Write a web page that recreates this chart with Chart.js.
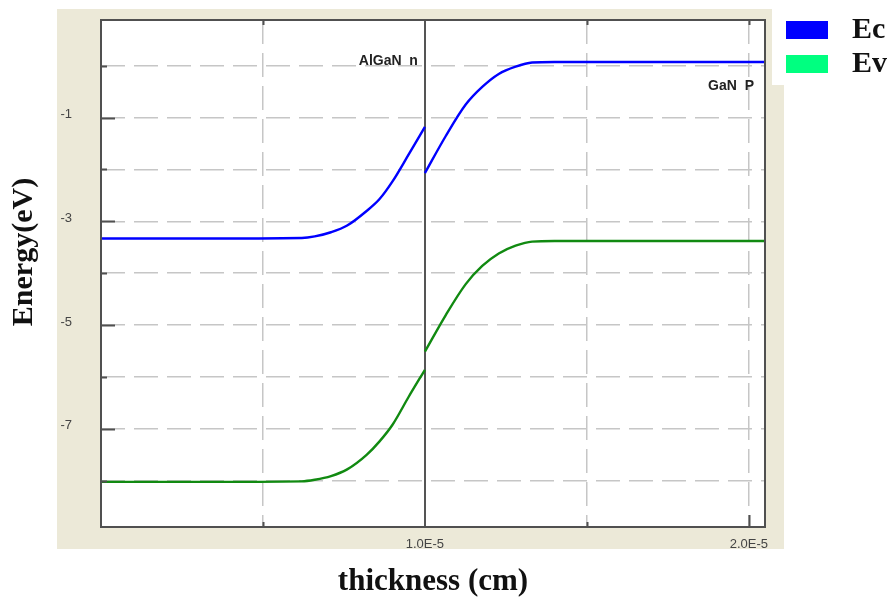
<!DOCTYPE html>
<html lang="en">
<head>
  <meta charset="UTF-8" />
  <title>Band diagram: n-AlGaN / p-GaN</title>
  <style>
    body { margin: 0; padding: 0; background: #fff; }
    canvas { display: block; }
  </style>
</head>
<body>
  <canvas id="bandChart" width="893" height="601"></canvas>

  <script src="https://cdn.jsdelivr.net/npm/chart.js"></script>
  <script>
    // --- Band edges (x in cm, energy in eV) ---
    // n-AlGaN side, up to the junction at 1.0E-5 cm
    const xLeft  = [0, 0.30e-5, 0.62e-5, 0.66e-5, 0.71e-5, 0.76e-5, 0.82e-5, 0.86e-5, 0.90e-5, 0.95e-5, 1.0e-5];
    const ecLeft = [-3.33, -3.33, -3.32, -3.29, -3.21, -3.08, -2.80, -2.57, -2.23, -1.71, -1.18];
    const evLeft = [-8.02, -8.02, -8.01, -7.98, -7.91, -7.78, -7.50, -7.24, -6.92, -6.38, -5.86];

    // p-GaN side
    const xRight  = [1.0e-5, 1.064e-5, 1.126e-5, 1.177e-5, 1.228e-5, 1.28e-5, 1.331e-5, 1.40e-5, 1.70e-5, 2.05e-5];
    const ecRight = [-2.07, -1.36, -0.75, -0.41, -0.16, -0.02, 0.06, 0.07, 0.07, 0.07];
    const evRight = [-5.51, -4.81, -4.21, -3.86, -3.62, -3.47, -3.39, -3.38, -3.38, -3.38];

    // --- Axes ---
    const xTicks = [0, 0.5e-5, 1.0e-5, 1.5e-5, 2.0e-5];
    const xTickLabels = ['', '', '1.0E-5', '', '2.0E-5'];
    const yTicks = [0, -1, -2, -3, -4, -5, -6, -7, -8];
    const yTickLabels = ['', '-1', '', '-3', '', '-5', '', '-7', ''];
    const junctionX = 1.0e-5;

    // --- Legend / region names ---
    const bandNames = ['Ec', 'Ev'];
    const lineColors = ['#0000ff', '#118a11'];
    const legendColors = ['#0000ff', '#00ff80'];
    const leftRegion = 'AlGaN  n';
    const rightRegion = 'GaN  P';

    function pairs(xs, ys) {
      return xs.map((x, i) => ({ x: x, y: ys[i] }));
    }

    function bandSet(data, color) {
      return {
        data: data,
        borderColor: color,
        backgroundColor: color,
        borderWidth: 2.4,
        pointRadius: 0,
        cubicInterpolationMode: 'monotone',
        fill: false
      };
    }

    // keep the plot box where the layout padding puts it
    function fixScale(s, size) {
      if (s.isHorizontal()) s.height = size; else s.width = size;
      s.paddingTop = 0;
      s.paddingBottom = 0;
      s.paddingLeft = 0;
      s.paddingRight = 0;
    }

    const serif = '"Liberation Serif", "Times New Roman", serif';

    // background panel, junction line, frame, titles and legend
    const decorations = {
      id: 'decorations',
      beforeDraw(chart) {
        const { ctx, chartArea: a } = chart;
        ctx.save();
        ctx.fillStyle = '#ece9d8';
        ctx.fillRect(a.left - 44, a.top - 11, a.width + 63, a.height + 33);
        // legend box sits over the panel corner
        ctx.fillStyle = '#ffffff';
        ctx.fillRect(a.right + 7, 0, chart.width - a.right - 7, 85);
        ctx.fillRect(a.left, a.top, a.width, a.height);
        ctx.restore();
      },
      beforeDatasetsDraw(chart) {
        const { ctx, chartArea: a, scales } = chart;
        const jx = Math.round(scales.x.getPixelForValue(junctionX));
        ctx.save();
        ctx.strokeStyle = '#555';
        ctx.lineWidth = 2;
        ctx.beginPath();
        ctx.moveTo(jx, a.top);
        ctx.lineTo(jx, a.bottom);
        ctx.stroke();
        ctx.restore();
      },
      afterDraw(chart) {
        const { ctx, chartArea: a, scales } = chart;
        ctx.save();

        // frame
        ctx.strokeStyle = '#505050';
        ctx.lineWidth = 2;
        ctx.strokeRect(a.left, a.top, a.width, a.height);

        // inward tick marks
        ctx.beginPath();
        yTicks.forEach((v, i) => {
          const py = Math.round(scales.y.getPixelForValue(v)) + 0.5;
          const len = yTickLabels[i] ? 14 : 6;
          ctx.moveTo(a.left, py);
          ctx.lineTo(a.left + len, py);
        });
        xTicks.forEach((v, i) => {
          if (v === 0 || v === junctionX) return;
          const px = Math.round(scales.x.getPixelForValue(v)) + 0.5;
          const len = xTickLabels[i] ? 12 : 5;
          ctx.moveTo(px, a.bottom);
          ctx.lineTo(px, a.bottom - len);
          ctx.moveTo(px, a.top);
          ctx.lineTo(px, a.top + 5);
        });
        ctx.stroke();

        // region names
        ctx.fillStyle = '#222';
        ctx.font = 'bold 14px "Liberation Sans", Arial, sans-serif';
        ctx.textAlign = 'right';
        ctx.textBaseline = 'alphabetic';
        ctx.fillText(leftRegion, scales.x.getPixelForValue(junctionX) - 7, scales.y.getPixelForValue(0) - 1);
        ctx.fillText(rightRegion, a.right - 11, scales.y.getPixelForValue(-0.47));

        // axis titles
        ctx.fillStyle = '#111';
        ctx.font = 'bold 31px ' + serif;
        ctx.textAlign = 'center';
        ctx.fillText('thickness (cm)', (a.left + a.right) / 2, a.bottom + 63);

        ctx.font = 'bold 30px ' + serif;
        ctx.translate(32, 252);
        ctx.rotate(-Math.PI / 2);
        ctx.fillText('Energy(eV)', 0, 0);
        ctx.setTransform(1, 0, 0, 1, 0, 0);

        // legend
        ctx.textAlign = 'left';
        ctx.font = 'bold 30px ' + serif;
        bandNames.forEach((name, i) => {
          const top = 21 + i * 34;
          ctx.fillStyle = legendColors[i];
          ctx.fillRect(a.right + 21, top, 42, 18);
          ctx.fillStyle = '#111';
          ctx.fillText(name, a.right + 87, top + 16 + 1);
        });

        ctx.restore();
      }
    };

    const ctx = document.getElementById('bandChart').getContext('2d');
    const bandChart = new Chart(ctx, {
      type: 'line',
      data: {
        datasets: [
          bandSet(pairs(xLeft, ecLeft), lineColors[0]),
          bandSet(pairs(xRight, ecRight), lineColors[0]),
          bandSet(pairs(xLeft, evLeft), lineColors[1]),
          bandSet(pairs(xRight, evRight), lineColors[1])
        ]
      },
      options: {
        responsive: false,
        animation: false,
        layout: { padding: { top: 20, right: 128, left: 0, bottom: 0 } },
        scales: {
          x: {
            type: 'linear',
            min: 0,
            max: 2.05e-5,
            afterBuildTicks: (s) => { s.ticks = xTicks.map(v => ({ value: v })); },
            afterFit: (s) => fixScale(s, 74),
            ticks: {
              callback: (v, i) => xTickLabels[i],
              color: '#444',
              font: { family: '"Liberation Sans", Arial, sans-serif', size: 13 },
              padding: 10,
              maxRotation: 0,
              autoSkip: false
            },
            grid: { color: '#c6c6c6', lineWidth: 1.5, drawTicks: false },
            border: { display: false, dash: [24, 9] }
          },
          y: {
            min: -8.89,
            max: 0.88,
            afterBuildTicks: (s) => { s.ticks = yTicks.map(v => ({ value: v })); },
            afterFit: (s) => fixScale(s, 101),
            ticks: {
              callback: (v, i) => yTickLabels[i],
              color: '#444',
              font: { family: '"Liberation Sans", Arial, sans-serif', size: 13 },
              padding: 29,
              labelOffset: -3,
              autoSkip: false
            },
            grid: { color: '#c6c6c6', lineWidth: 1.5, drawTicks: false },
            border: { display: false, dash: [24, 9] }
          }
        },
        plugins: {
          legend: { display: false },
          tooltip: { enabled: false }
        }
      },
      plugins: [decorations]
    });
  </script>
</body>
</html>
